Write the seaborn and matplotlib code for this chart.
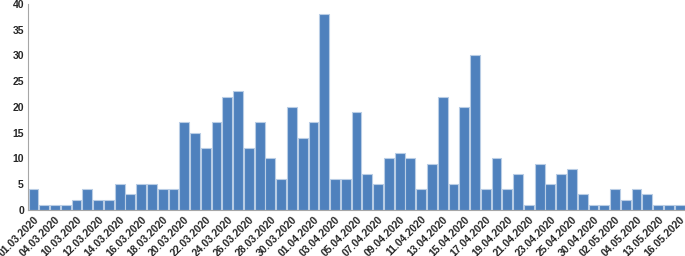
import matplotlib
matplotlib.use("Agg")
import matplotlib.pyplot as plt
import seaborn as sns
import pandas as pd

# dates of each bar (only every other one is labelled on the axis)
dates = ["01.03.2020", "02.03.2020", "04.03.2020", "05.03.2020", "10.03.2020", "11.03.2020",
         "12.03.2020", "13.03.2020", "14.03.2020", "15.03.2020", "16.03.2020", "17.03.2020",
         "18.03.2020", "19.03.2020", "20.03.2020", "21.03.2020", "22.03.2020", "23.03.2020",
         "24.03.2020", "25.03.2020", "26.03.2020", "27.03.2020", "28.03.2020", "29.03.2020",
         "30.03.2020", "31.03.2020", "01.04.2020", "02.04.2020", "03.04.2020", "04.04.2020",
         "05.04.2020", "06.04.2020", "07.04.2020", "08.04.2020", "09.04.2020", "10.04.2020",
         "11.04.2020", "12.04.2020", "13.04.2020", "14.04.2020", "15.04.2020", "16.04.2020",
         "17.04.2020", "18.04.2020", "19.04.2020", "20.04.2020", "21.04.2020", "22.04.2020",
         "23.04.2020", "24.04.2020", "25.04.2020", "27.04.2020", "30.04.2020", "01.05.2020",
         "02.05.2020", "03.05.2020", "04.05.2020", "05.05.2020", "13.05.2020", "14.05.2020",
         "16.05.2020"]

counts = [4, 1, 1, 1, 2, 4, 2, 2, 5, 3, 5, 5, 4, 4, 17, 15, 12, 17, 22, 23,
          12, 17, 10, 6, 20, 14, 17, 38, 6, 6, 19, 7, 5, 10, 11, 10, 4, 9, 22, 5,
          20, 30, 4, 10, 4, 7, 1, 9, 5, 7, 8, 3, 1, 1, 4, 2, 4, 3, 1, 1, 1]

df = pd.DataFrame({"date": dates, "count": counts})

sns.set_style("white")
plt.rcParams["font.family"] = ["Liberation Sans", "DejaVu Sans"]

fig = plt.figure(figsize=(6.85, 2.56), dpi=100)
ax = fig.add_axes([0.041, 0.18, 0.959, 0.805])

sns.barplot(data=df, x="date", y="count", color="#4F81BD", saturation=1,
            width=0.92, edgecolor="#B9CDE5", linewidth=0.8, ax=ax)

ax.set_xlim(-0.5, len(dates) - 0.5)
ax.set_ylim(0, 40)
ax.set_yticks(range(0, 41, 5))
ax.set_xticks(range(0, len(dates), 2))
ax.set_xticklabels(dates[::2], rotation=45, ha="right", rotation_mode="anchor",
                   fontsize=7.5, fontweight="bold")
for lab in ax.get_yticklabels():
    lab.set_fontsize(7.5)
    lab.set_fontweight("bold")
ax.set_xlabel("")
ax.set_ylabel("")

for side in ["top", "right"]:
    ax.spines[side].set_visible(False)
for side in ["left", "bottom"]:
    ax.spines[side].set_color("#A6A6A6")
    ax.spines[side].set_linewidth(0.8)
ax.tick_params(axis="both", length=0, pad=3)

fig.savefig("out.png", dpi=100)
